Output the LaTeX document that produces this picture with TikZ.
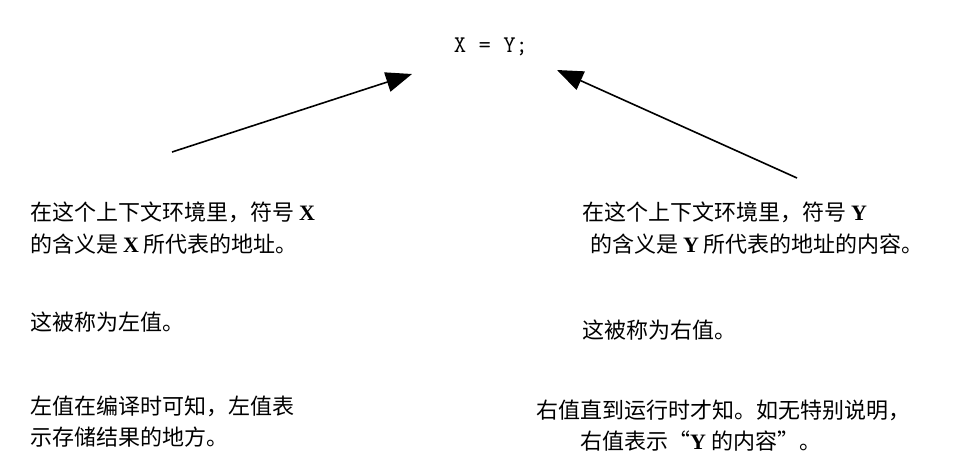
\documentclass[tikz,border=0pt]{standalone}
\usepackage{fontspec}
\newfontfamily\cjk{Noto Sans CJK SC}
\newfontfamily\lat{Liberation Serif}
\newcommand{\LX}[1]{{\lat\bfseries #1}}
\usetikzlibrary{arrows.meta}
\begin{document}
\begin{tikzpicture}[x=1pt,y=-1pt,
  txt/.style={anchor=west,inner sep=0pt,font=\cjk\fontsize{22}{24}\selectfont},
  ptr/.style={line width=1.6pt,-{Triangle[length=26pt,width=20pt]}}]
\useasboundingbox (0,0) rectangle (955,474);
\node[anchor=center,inner sep=0pt,font=\ttfamily\fontsize{24}{26}\selectfont] (code) at (491,47) {X = Y;};
\coordinate (ls) at (172,152); \coordinate (le) at (412,74);
\coordinate (rs) at (797,178); \coordinate (re) at (557,70);
\draw[ptr] (ls) -- (le);
\draw[ptr] (rs) -- (re);
\node[txt] (l1) at (30,212) {在这个上下文环境里，符号 \LX{X}};
\node[txt] (l2) at (30,244) {的含义是 \LX{X} 所代表的地址。};
\node[txt] (l3) at (30,322) {这被称为左值。};
\node[txt] (l4) at (30,406) {左值在编译时可知，左值表};
\node[txt] (l5) at (30,437) {示存储结果的地方。};
\node[txt] (r1) at (582,212) {在这个上下文环境里，符号 \LX{Y}};
\node[txt] (r2) at (590,244) {的含义是 \LX{Y} 所代表的地址的内容。};
\node[txt] (r3) at (582,330) {这被称为右值。};
\node[txt] (r4) at (536,410) {右值直到运行时才知。如无特别说明，};
\node[txt] (r5) at (580,441) {右值表示“\LX{Y} 的内容”。};
\end{tikzpicture}
\end{document}
